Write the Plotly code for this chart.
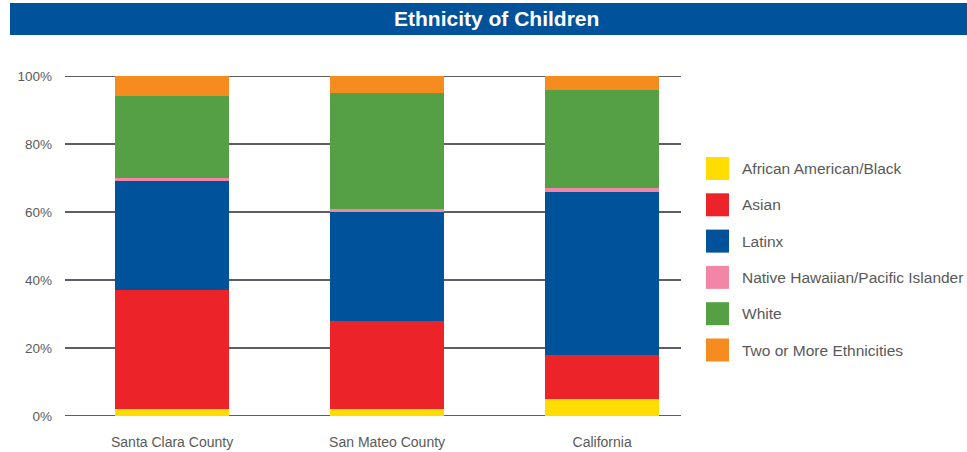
import plotly.graph_objects as go

# Share of children by ethnicity (%), per region
regions = ["Santa Clara County", "San Mateo County", "California"]
groups = [
    "African American/Black",
    "Asian",
    "Latinx",
    "Native Hawaiian/Pacific Islander",
    "White",
    "Two or More Ethnicities",
]
african_american = [2, 2, 5]
asian = [35, 26, 13]
latinx = [32, 32, 48]
pacific_islander = [1, 1, 1]
white = [24, 34, 29]
multiracial = [6, 5, 4]

series = [african_american, asian, latinx, pacific_islander, white, multiracial]
colors = ["#FFDD00", "#EC2329", "#00539B", "#F386A6", "#55A045", "#F68B1F"]
y_ticks = [0, 20, 40, 60, 80, 100]
y_tick_labels = [f"{v}%" for v in y_ticks]

W, H = 967, 452
PL, PR, PT, PB = 65, 681, 76, 416  # plot area in pixels

fig = go.Figure()
for name, vals, col in zip(groups, series, colors):
    fig.add_trace(go.Bar(
        x=regions, y=vals, name=name, marker=dict(color=col, line=dict(width=0)),
        width=0.53, showlegend=False,
    ))

font = "Liberation Sans, Arial, sans-serif"
fig.update_layout(
    width=W, height=H,
    margin=dict(l=PL, r=W - PR, t=PT, b=H - PB, pad=0, autoexpand=False),
    barmode="stack",
    plot_bgcolor="white", paper_bgcolor="white",
    font=dict(family=font, size=14, color="#5a5a5a"),
    xaxis=dict(
        range=[-0.498, 2.367], showgrid=False, zeroline=False, showline=False,
        ticks="", tickfont=dict(size=14, color="#5a5a5a"), ticklabelstandoff=16,
        automargin=False,
    ),
    yaxis=dict(
        range=[0, 100], tickvals=y_ticks, ticktext=y_tick_labels,
        showgrid=False, zeroline=False, showline=False, ticks="",
        tickfont=dict(size=13.5, color="#5a5a5a"), ticklabelstandoff=12,
        automargin=False,
    ),
)

def px_x(p):
    return (p - PL) / (PR - PL)

def px_y(p):
    return (PB - p) / (PB - PT)

shapes = []
annotations = []

# Horizontal gridlines, drawn behind the bars
for v in y_ticks:
    shapes.append(dict(
        type="line", xref="paper", yref="y", x0=0, x1=1, y0=v, y1=v,
        line=dict(color="#5c5e66", width=2), layer="below",
    ))

# Title banner
shapes.append(dict(
    type="rect", xref="paper", yref="paper",
    x0=px_x(10), x1=px_x(967), y0=px_y(35), y1=px_y(3),
    fillcolor="#00529B", line=dict(width=0), layer="above",
))
annotations.append(dict(
    text="<b>Ethnicity of Children</b>", xref="paper", yref="paper",
    x=px_x(496), y=px_y(19), xanchor="center", yanchor="middle",
    showarrow=False, font=dict(family=font, size=21, color="white"),
))

# Legend: coloured squares with labels
for i, (name, col) in enumerate(zip(groups, colors)):
    cy = 168.5 + i * 36.3
    shapes.append(dict(
        type="rect", xref="paper", yref="paper",
        x0=px_x(706), x1=px_x(729), y0=px_y(cy + 11.5), y1=px_y(cy - 11.5),
        fillcolor=col, line=dict(width=0),
    ))
    annotations.append(dict(
        text=name, xref="paper", yref="paper",
        x=px_x(740), y=px_y(cy), xanchor="left", yanchor="middle",
        showarrow=False, font=dict(family=font, size=15.5, color="#595959"),
    ))

fig.update_layout(shapes=shapes, annotations=annotations)
fig.write_html("out.html")
